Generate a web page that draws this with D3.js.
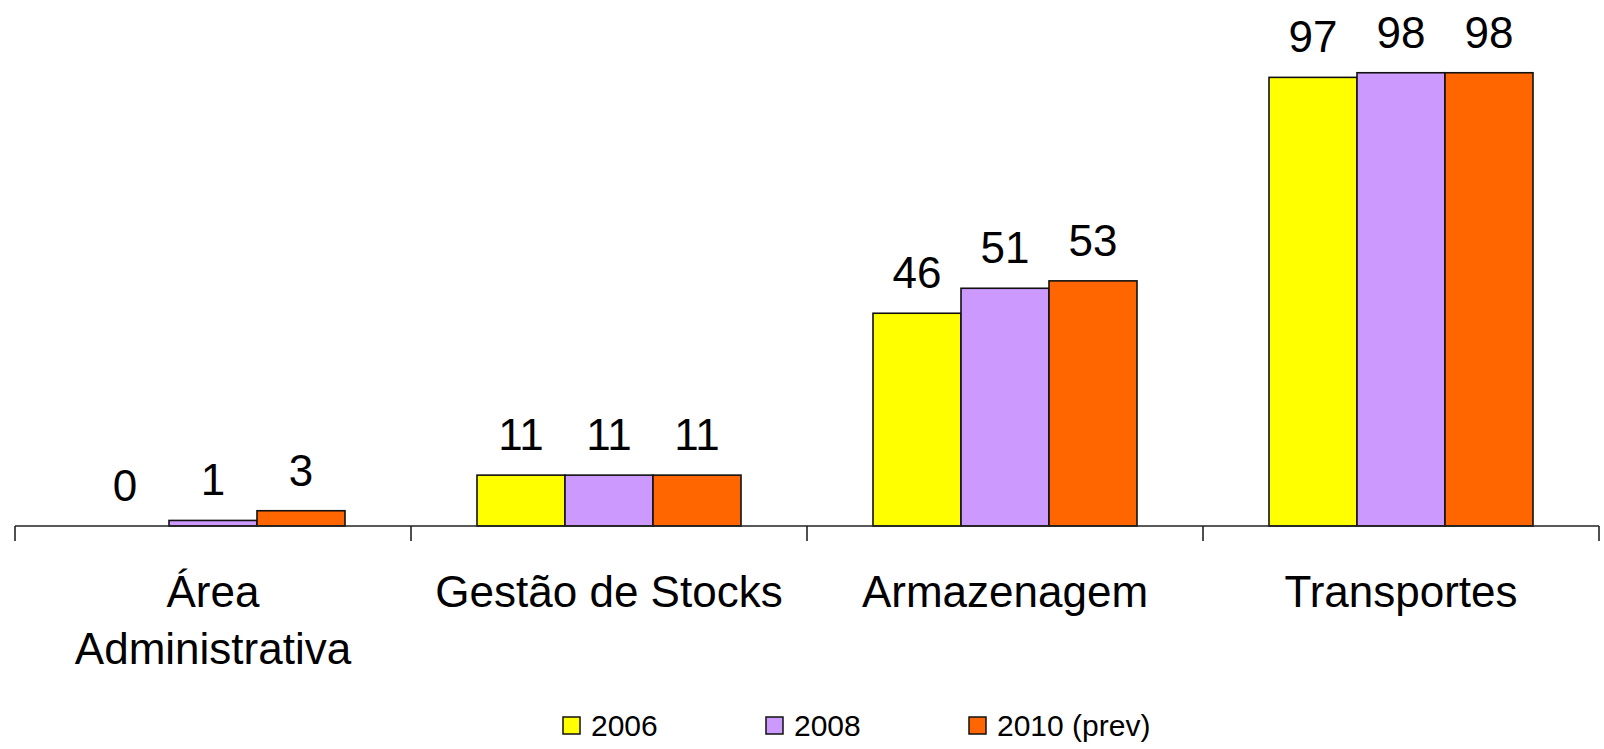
<!DOCTYPE html>
<html lang="pt">
<head>
    <meta charset="UTF-8">
    <title>Gráfico D3</title>
    <script src="https://d3js.org/d3.v7.min.js"></script>
    <style>
        html, body { margin: 0; padding: 0; background: #fff; }
        body { font-family: "Liberation Sans", Arial, sans-serif; }
        svg { display: block; }
    </style>
</head>
<body>
    <svg id="chart"></svg>
    <script>
        const categories = ["Área Administrativa", "Gestão de Stocks", "Armazenagem", "Transportes"];
        const series = ["2006", "2008", "2010 (prev)"];
        const values2006 = [0, 11, 46, 97];
        const values2008 = [1.2, 11, 51.4, 98];
        const values2010 = [3.3, 11, 53, 98];
        const colors = ["#FFFF00", "#CC99FF", "#FF6600"];

        const W = 1604, H = 749;
        const baseY = 526, topY = 63.5;

        const svg = d3.select("#chart")
                      .attr("width", W)
                      .attr("height", H);

        const data = categories.map((c, i) => ({
            cat: c,
            vals: [values2006[i], values2008[i], values2010[i]]
        }));

        const x0 = d3.scaleBand().domain(categories).range([15, 1599]).paddingInner(0).paddingOuter(0);
        const x1 = d3.scaleBand().domain(series).range([0, x0.bandwidth()]).paddingInner(0).paddingOuter(0.75);
        const y = d3.scaleLinear().domain([0, 100]).range([baseY, topY]);

        // bars
        const groups = svg.selectAll("g.cat")
           .data(data)
           .enter()
           .append("g")
           .attr("class", "cat")
           .attr("transform", d => `translate(${x0(d.cat)},0)`);

        groups.selectAll("rect")
           .data(d => d.vals.map((v, j) => ({s: series[j], v: v, j: j})))
           .enter()
           .filter(d => d.v > 0)
           .append("rect")
           .attr("x", d => x1(d.s))
           .attr("y", d => y(d.v))
           .attr("width", x1.bandwidth())
           .attr("height", d => baseY - y(d.v))
           .attr("fill", d => colors[d.j])
           .attr("stroke", "#111")
           .attr("stroke-width", 1.6);

        // value labels
        groups.selectAll("text.val")
           .data(d => d.vals.map((v, j) => ({s: series[j], v: v})))
           .enter()
           .append("text")
           .attr("class", "val")
           .attr("x", d => x1(d.s) + x1.bandwidth() / 2)
           .attr("y", d => y(d.v) - 25)
           .attr("text-anchor", "middle")
           .attr("font-size", 44)
           .attr("fill", "#000")
           .text(d => d3.format(".0f")(d.v));

        // axis line and ticks between categories
        const axis = svg.append("g");
        axis.append("line")
            .attr("x1", x0.range()[0]).attr("x2", x0.range()[1])
            .attr("y1", baseY).attr("y2", baseY)
            .attr("stroke", "#222").attr("stroke-width", 1.6);

        const bounds = categories.map(c => x0(c)).concat([x0.range()[1]]);
        axis.selectAll("line.tick")
            .data(bounds)
            .enter()
            .append("line")
            .attr("class", "tick")
            .attr("x1", d => d).attr("x2", d => d)
            .attr("y1", baseY).attr("y2", baseY + 15)
            .attr("stroke", "#222").attr("stroke-width", 1.6);

        // category labels, wrapped to the band width
        const catLabels = axis.selectAll("text.cat")
            .data(categories)
            .enter()
            .append("text")
            .attr("class", "cat")
            .attr("x", d => x0(d) + x0.bandwidth() / 2)
            .attr("y", 607)
            .attr("text-anchor", "middle")
            .attr("font-size", 44)
            .attr("fill", "#000")
            .text(d => d);

        catLabels.each(function(d) {
            const t = d3.select(this);
            const words = d.split(" ");
            const maxW = x0.bandwidth() - 20;
            let line = [];
            const cx = t.attr("x");
            t.text(null);
            let tspan = t.append("tspan").attr("x", cx).attr("dy", 0);
            words.forEach(w => {
                line.push(w);
                tspan.text(line.join(" "));
                if (tspan.node().getComputedTextLength() > maxW && line.length > 1) {
                    line.pop();
                    tspan.text(line.join(" "));
                    line = [w];
                    tspan = t.append("tspan").attr("x", cx).attr("dy", 56.5).text(w);
                }
            });
        });

        // legend
        const legend = svg.append("g");
        const items = legend.selectAll("g")
            .data(series)
            .enter()
            .append("g")
            .attr("transform", (d, i) => `translate(${563 + i * 203},717)`);

        items.append("rect")
            .attr("width", 17).attr("height", 17)
            .attr("fill", (d, i) => colors[i])
            .attr("stroke", "#111").attr("stroke-width", 1.5);

        items.append("text")
            .attr("x", 28)
            .attr("y", 19)
            .attr("font-size", 30)
            .attr("fill", "#000")
            .text(d => d);
    </script>
</body>
</html>
